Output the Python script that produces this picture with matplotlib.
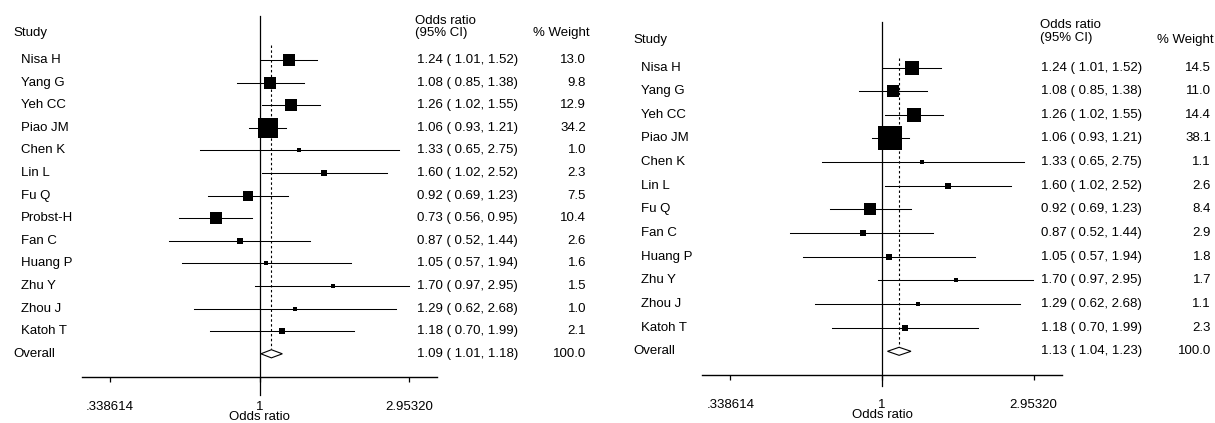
import numpy as np
import matplotlib.pyplot as plt
from matplotlib.patches import Polygon
from matplotlib.transforms import blended_transform_factory

plt.rcParams['font.family'] = ['Liberation Sans', 'DejaVu Sans']
plt.rcParams['font.size'] = 9.5

W, H = 1215, 423

# 左图: 13 项研究
studies_a = ['Nisa H', 'Yang G', 'Yeh CC', 'Piao JM', 'Chen K', 'Lin L', 'Fu Q',
             'Probst-H', 'Fan C', 'Huang P', 'Zhu Y', 'Zhou J', 'Katoh T']
or_a = [1.24, 1.08, 1.26, 1.06, 1.33, 1.60, 0.92, 0.73, 0.87, 1.05, 1.70, 1.29, 1.18]
lo_a = [1.01, 0.85, 1.02, 0.93, 0.65, 1.02, 0.69, 0.56, 0.52, 0.57, 0.97, 0.62, 0.70]
hi_a = [1.52, 1.38, 1.55, 1.21, 2.75, 2.52, 1.23, 0.95, 1.44, 1.94, 2.95, 2.68, 1.99]
wt_a = [13.0, 9.8, 12.9, 34.2, 1.0, 2.3, 7.5, 10.4, 2.6, 1.6, 1.5, 1.0, 2.1]
overall_a = (1.09, 1.01, 1.18)

# 右图: 去掉 Probst-H 后的 12 项研究
studies_b = ['Nisa H', 'Yang G', 'Yeh CC', 'Piao JM', 'Chen K', 'Lin L', 'Fu Q',
             'Fan C', 'Huang P', 'Zhu Y', 'Zhou J', 'Katoh T']
or_b = [1.24, 1.08, 1.26, 1.06, 1.33, 1.60, 0.92, 0.87, 1.05, 1.70, 1.29, 1.18]
lo_b = [1.01, 0.85, 1.02, 0.93, 0.65, 1.02, 0.69, 0.52, 0.57, 0.97, 0.62, 0.70]
hi_b = [1.52, 1.38, 1.55, 1.21, 2.75, 2.52, 1.23, 1.44, 1.94, 2.95, 2.68, 1.99]
wt_b = [14.5, 11.0, 14.4, 38.1, 1.1, 2.6, 8.4, 2.9, 1.8, 1.7, 1.1, 2.3]
overall_b = (1.13, 1.04, 1.23)

total_weight = 100.0
tick_vals = [0.338614, 1, 2.95320]
tick_labels = ['.338614', '1', '2.95320']
xspan = np.exp(1.286)


def forest(fig, studies, est, lo, hi, wt, overall, lay):
    x0, x1 = lay['x0'], lay['x1']
    y_axis, y_top = lay['y_axis'], lay['y_top']
    row0, dy = lay['row0'], lay['dy']
    ax = fig.add_axes([x0 / W, 1 - y_axis / H, (x1 - x0) / W, (y_axis - y_top) / H])
    ax.set_xscale('log')
    ax.set_xlim(1 / xspan, xspan)
    ax.set_ylim((y_axis - row0) / dy, (y_top - row0) / dy)
    for s in ['left', 'right', 'top']:
        ax.spines[s].set_visible(False)
    ax.spines['bottom'].set_linewidth(1.0)
    ax.set_yticks([])
    ax.set_xticks(tick_vals)
    ax.set_xticklabels(tick_labels)
    ax.xaxis.set_minor_locator(plt.NullLocator())
    ax.tick_params(axis='x', direction='out', length=3.6, width=0.9, pad=13.5)
    ax.set_xlabel('Odds ratio', labelpad=-1.0)

    n = len(studies)
    rows = np.arange(n)
    # 无效线 (OR = 1)
    ext = (lay['null_bottom'] - y_axis) / (y_axis - y_top)
    ax.plot([1, 1], [-ext, 1], transform=blended_transform_factory(ax.transData, ax.transAxes),
            color='black', lw=0.9, clip_on=False)
    # 合并效应虚线
    ax.plot([overall[0], overall[0]], [lay['dash_top'], n - 0.2], color='black',
            lw=0.8, ls=(0, (2.2, 2.2)))
    # 各研究置信区间与权重方块
    for i in range(n):
        ax.plot([lo[i], hi[i]], [rows[i], rows[i]], color='black', lw=0.75)
        side = lay['box'] * np.sqrt(wt[i]) * 0.72
        ax.plot(est[i], rows[i], marker='s', ms=side, color='black', mew=0)
    # 合并效应菱形
    h = lay['dh']
    dia = Polygon([(overall[1], n), (overall[0], n - h), (overall[2], n), (overall[0], n + h)],
                  closed=True, facecolor='white', edgecolor='black', lw=0.8)
    ax.add_patch(dia)

    # 文字列
    tr = blended_transform_factory(fig.transFigure, ax.transData)

    def fx(px):
        return px / W

    def fy(py):
        return 1 - py / H

    fig.text(fx(lay['study_x']), fy(lay['study_y']), 'Study', va='center', ha='left')
    fig.text(fx(lay['hdr_x']), fy(lay['hdr_y1']), 'Odds ratio', va='center', ha='left')
    fig.text(fx(lay['hdr_x']), fy(lay['hdr_y2']), '(95% CI)', va='center', ha='left')
    fig.text(fx(lay['wt_hdr_x']), fy(lay['wt_hdr_y']), '% Weight', va='center', ha='left')
    for i in range(n):
        ax.text(fx(lay['name_x']), rows[i], studies[i], transform=tr, va='center', ha='left')
        ax.text(fx(lay['est_x']), rows[i], f'{est[i]:.2f} ( {lo[i]:.2f}, {hi[i]:.2f})',
                transform=tr, va='center', ha='left')
        ax.text(fx(lay['wt_x']), rows[i], f'{wt[i]:.1f}', transform=tr, va='center', ha='right')
    ax.text(fx(lay['study_x']), n, 'Overall', transform=tr, va='center', ha='left')
    ax.text(fx(lay['est_x']), n, f'{overall[0]:.2f} ( {overall[1]:.2f}, {overall[2]:.2f})',
            transform=tr, va='center', ha='left')
    ax.text(fx(lay['wt_x']), n, f'{total_weight:.1f}', transform=tr, va='center', ha='right')
    return ax


fig = plt.figure(figsize=(W / 100, H / 100), dpi=100)
fig.patch.set_facecolor('white')

lay_a = dict(x0=82, x1=437, y_axis=377, y_top=16, row0=60, dy=22.6, null_bottom=395,
             dash_top=-0.66, box=3.54, dh=0.18,
             study_x=13, study_y=33, name_x=21, hdr_x=415, hdr_y1=21, hdr_y2=33,
             wt_hdr_x=533, wt_hdr_y=33, est_x=417, wt_x=586)
lay_b = dict(x0=702, x1=1062, y_axis=375, y_top=22, row0=67.5, dy=23.65, null_bottom=386,
             dash_top=-0.4, box=3.8, dh=0.17,
             study_x=633, study_y=40, name_x=641, hdr_x=1040, hdr_y1=25, hdr_y2=38,
             wt_hdr_x=1157, wt_hdr_y=40, est_x=1041, wt_x=1211)

forest(fig, studies_a, or_a, lo_a, hi_a, wt_a, overall_a, lay_a)
forest(fig, studies_b, or_b, lo_b, hi_b, wt_b, overall_b, lay_b)

fig.savefig('out.png', dpi=100, facecolor='white')
